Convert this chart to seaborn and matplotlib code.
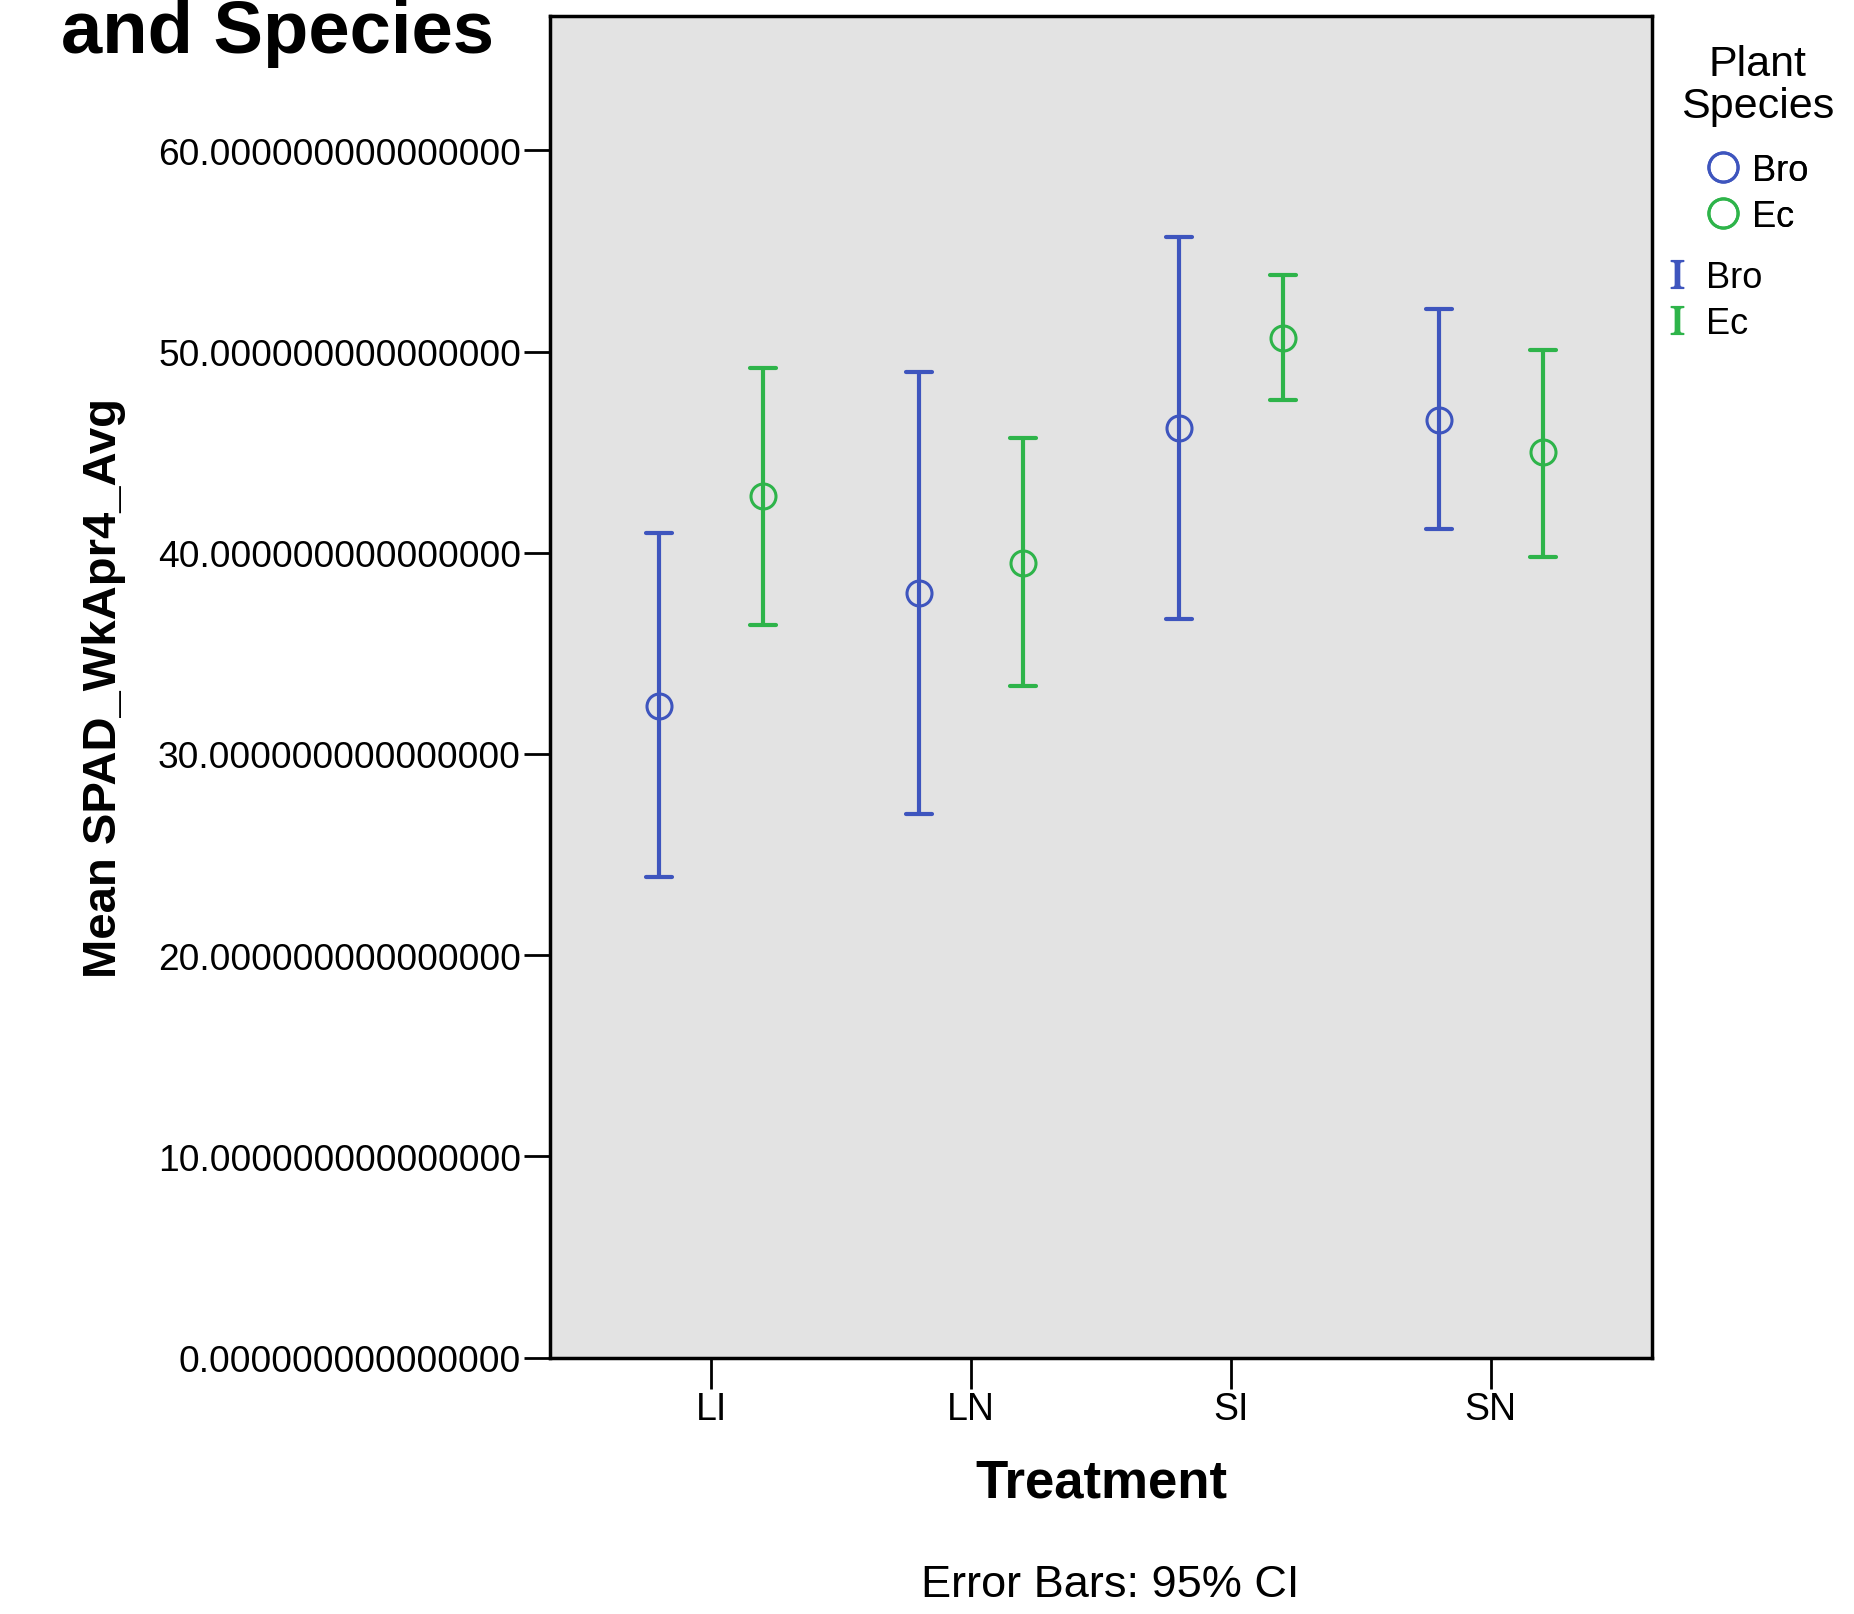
import numpy as np
import pandas as pd
import seaborn as sns
import matplotlib.pyplot as plt
from matplotlib.lines import Line2D
from matplotlib.ticker import FormatStrFormatter

# values (mean and 95% CI limits)
treatments = ['LI', 'LN', 'SI', 'SN']
species = ['Bro', 'Ec']
bro_mean = [32.4, 38.0, 46.2, 46.6]
bro_low = [23.9, 27.0, 36.7, 41.2]
bro_high = [41.0, 49.0, 55.7, 52.1]
ec_mean = [42.8, 39.5, 50.7, 45.0]
ec_low = [36.4, 33.4, 47.6, 39.8]
ec_high = [49.2, 45.7, 53.8, 50.1]
y_ticks = [0, 10, 20, 30, 40, 50, 60]

colors = {'Bro': '#3E55BE', 'Ec': '#2EB44A'}

# long table: each group gets low / mean / high so median = mean, min/max = CI
rows = []
for sp, m, lo, hi in [('Bro', bro_mean, bro_low, bro_high),
                      ('Ec', ec_mean, ec_low, ec_high)]:
    for t, a, b, c in zip(treatments, lo, m, hi):
        for v in (a, b, c):
            rows.append({'Treatment': t, 'Species': sp, 'SPAD': v})
df = pd.DataFrame(rows)

sns.set_style('ticks')
plt.rcParams['font.family'] = ['Liberation Sans', 'DejaVu Sans']
plt.rcParams['mathtext.fontset'] = 'stix'
for k in ['text.color', 'axes.labelcolor', 'xtick.color', 'ytick.color']:
    plt.rcParams[k] = 'black'

fig = plt.figure(figsize=(18.54, 16.15), dpi=100)
ax = fig.add_axes([0.2967, 0.1588, 0.5942, 0.8309])
ax.set_facecolor('#E3E3E3')

sns.pointplot(data=df, x='Treatment', y='SPAD', hue='Species',
              order=treatments, hue_order=species, palette=colors,
              estimator=np.median, errorbar=lambda v: (v.min(), v.max()),
              dodge=0.4, linestyle='none', markers='o', capsize=0.1,
              err_kws={'linewidth': 3}, markersize=18,
              markerfacecolor='none', markeredgewidth=2.2,
              legend=False, ax=ax)

ax.set_xlim(-0.62, 3.62)
ax.set_ylim(0, 66.7)
ax.set_yticks(y_ticks)
ax.yaxis.set_major_formatter(FormatStrFormatter('%.15f'))
for s in ax.spines.values():
    s.set_visible(True)
    s.set_linewidth(2.5)
    s.set_color('black')
ax.tick_params(axis='y', length=19, width=2, pad=2, labelsize=26.7)
ax.tick_params(axis='x', length=22, width=2, pad=2, labelsize=27)

ax.set_xlabel('Treatment', fontsize=38, fontweight='bold', labelpad=22)
ax.set_ylabel('Mean SPAD_WkApr4_Avg', fontsize=34, fontweight='bold', labelpad=23)

fig.text(0.033, 0.967, 'and Species', fontsize=53.5, fontweight='bold',
         ha='left', va='baseline')
fig.text(0.599, 0.0112, 'Error Bars: 95% CI', fontsize=32.5,
         ha='center', va='baseline')

# legend: title, marker entries, error bar entries
fig.text(0.948, 0.9467, 'Plant\nSpecies', fontsize=31, ha='center',
         va='center', linespacing=1.05)

h1 = [Line2D([], [], marker='o', linestyle='', markerfacecolor='none',
             markeredgecolor=colors[s], markersize=21, markeredgewidth=2.2)
      for s in species]
leg1 = fig.legend(h1, species, loc='upper left', bbox_to_anchor=(0.9129, 0.9136),
                  frameon=False, fontsize=26, handlelength=0.9,
                  handletextpad=0.355, labelspacing=0.3, borderaxespad=0)
fig.add_artist(leg1)

h2 = [Line2D([], [], marker=r'$\mathrm{I}$', linestyle='',
             color=colors[s], markersize=20) for s in species]
fig.legend(h2, species, loc='upper left', bbox_to_anchor=(0.889, 0.8473),
           frameon=False, fontsize=26, handlelength=0.8, handletextpad=0.4,
           labelspacing=0.29, borderaxespad=0)

fig.savefig('out.png', dpi=100)
